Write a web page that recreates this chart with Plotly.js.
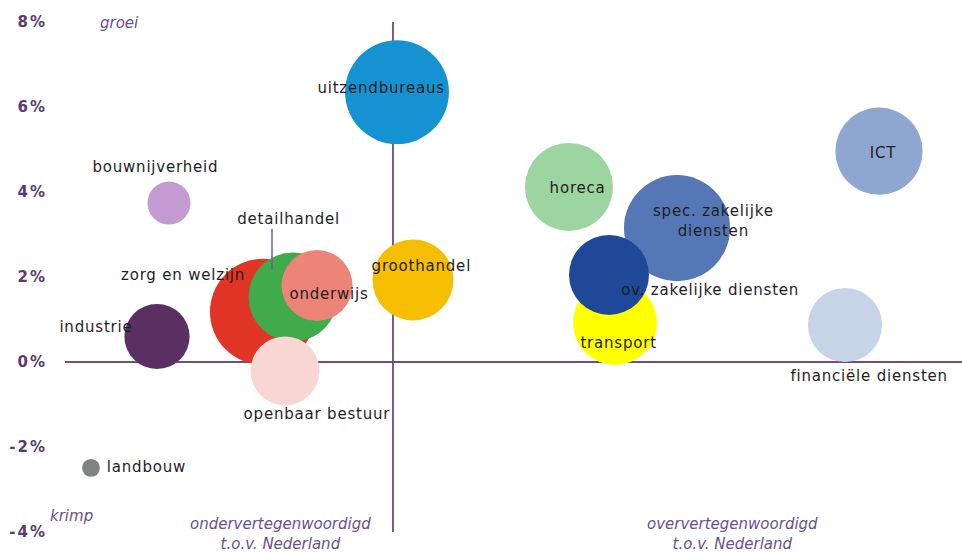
<!DOCTYPE html>
<html>
<head>
<meta charset="utf-8">
<script src="https://cdn.plot.ly/plotly-3.0.1.min.js"></script>
<style>
  html, body { margin: 0; padding: 0; background: #fff; }
  #chart { width: 962px; height: 552px; }
  #chart .annotation-text.lbl { letter-spacing: 0.8px; }
  #chart .ytick text { letter-spacing: 2px; }
</style>
</head>
<body>
<div id="chart"></div>
<script>
// ---- data ----
// sectors
var sectoren = ['landbouw', 'bouwnijverheid', 'industrie', 'zorg en welzijn', 'detailhandel',
  'onderwijs', 'openbaar bestuur', 'uitzendbureaus', 'groothandel', 'horeca',
  'spec. zakelijke<br>diensten', 'transport', 'ov. zakelijke diensten', 'financiële diensten', 'ICT'];
// over/under-representation relative to Nederland (0 = average)
var afwijking = [-0.755, -0.56, -0.59, -0.325, -0.25, -0.19, -0.27, 0.01, 0.05, 0.44, 0.71, 0.555, 0.54, 1.13, 1.215];
// growth (%)
var groei = [-2.49, 3.74, 0.60, 1.18, 1.53, 1.80, -0.21, 6.35, 1.93, 4.12, 3.15, 0.92, 2.05, 0.87, 4.96];
// bubble size (employment, estimated)
var banen = [32, 185, 425, 1125, 790, 505, 475, 1080, 655, 775, 1125, 705, 640, 550, 760];
// y tick labels
var yTickVals = [-4, -2, 0, 2, 4, 6, 8];
var yTickText = ['-4%', '-2%', '0%', '2%', '4%', '6%', '8%'];

// ---- styles ----
var kleuren = ['#808285', '#c39bd0', '#5a2f62', '#e03427', '#3fab4a', '#ed8478', '#f8d6d4',
  '#1592d2', '#f6be00', '#9dd5a1', '#5677b6', '#ffff00', '#1f4898', '#c7d4e8', '#8fa6d0'];
// label offsets in pixels (dx, dy up)
var labelDx = [55, -14, -61, -80, -5, 12, 32, -16, 8, 8, 36, 3, 101, 24, 4];
var labelDy = [1, 36, 10, 37, 78, -8, -43, 4, 14, -1, 7, -20, -15, -51, -2];

var trace = {
  type: 'scatter',
  mode: 'markers',
  x: afwijking,
  y: groei,
  text: sectoren,
  hoverinfo: 'text',
  marker: {
    size: banen,
    sizemode: 'area',
    sizeref: 0.2,
    color: kleuren,
    opacity: 1,
    line: { width: 0 }
  },
  showlegend: false
};

var annotations = sectoren.map(function (s, i) {
  return {
    x: afwijking[i], y: groei[i], xref: 'x', yref: 'y',
    text: s, showarrow: false,
    xanchor: 'center', yanchor: 'middle',
    xshift: labelDx[i], yshift: labelDy[i],
    font: { family: 'DejaVu Sans', size: 15, color: '#1e1e1e' }
  };
});

var italic = { family: 'DejaVu Sans', size: 15, color: '#6b4e8c', style: 'italic' };
annotations.push(
  { xref: 'paper', yref: 'paper', x: 0.0613, y: 0.998, text: 'groei', showarrow: false,
    xanchor: 'center', yanchor: 'middle', font: italic },
  { xref: 'paper', yref: 'paper', x: 0.0067, y: 0.031, text: 'krimp', showarrow: false,
    xanchor: 'center', yanchor: 'middle', font: italic },
  { xref: 'paper', yref: 'paper', x: 0.2408, y: -0.004, text: 'ondervertegenwoordigd<br>t.o.v. Nederland',
    showarrow: false, xanchor: 'center', yanchor: 'middle', font: italic },
  { xref: 'paper', yref: 'paper', x: 0.7447, y: -0.004, text: 'oververtegenwoordigd<br>t.o.v. Nederland',
    showarrow: false, xanchor: 'center', yanchor: 'middle', font: italic }
);

// leader line for detailhandel, anchored to its bubble
var iDetail = sectoren.indexOf('detailhandel');
var shapes = [{
  type: 'line', xref: 'x', yref: 'y',
  xsizemode: 'pixel', ysizemode: 'pixel',
  xanchor: afwijking[iDetail], yanchor: groei[iDetail],
  x0: -21, x1: -21, y0: 27, y1: 68,
  line: { color: '#7b5b8f', width: 1.5 },
  layer: 'above'
}];

var layout = {
  width: 962, height: 552,
  margin: { l: 65, r: 0, t: 22, b: 20, pad: 0 },
  paper_bgcolor: '#ffffff', plot_bgcolor: '#ffffff',
  xaxis: {
    range: [-0.82, 1.4225], showgrid: false, showticklabels: false, ticks: '',
    zeroline: true, zerolinecolor: '#7b5b8f', zerolinewidth: 1.5, showline: false, fixedrange: true
  },
  yaxis: {
    range: [-4, 8], tickvals: yTickVals, ticktext: yTickText, showgrid: false,
    zeroline: true, zerolinecolor: '#6e4f82', zerolinewidth: 1.5, showline: false,
    ticks: 'outside', ticklen: 14, tickcolor: 'rgba(0,0,0,0)',
    tickfont: { family: 'DejaVu Sans', size: 15, color: '#5b3a70', weight: 'bold' },
    fixedrange: true
  },
  annotations: annotations,
  shapes: shapes,
  hovermode: 'closest'
};

Plotly.newPlot('chart', [trace], layout, { displayModeBar: false, staticPlot: true }).then(function () {
  var nodes = document.querySelectorAll('#chart .annotation-text');
  for (var i = 0; i < sectoren.length && i < nodes.length; i++) nodes[i].classList.add('lbl');
});
</script>
</body>
</html>
